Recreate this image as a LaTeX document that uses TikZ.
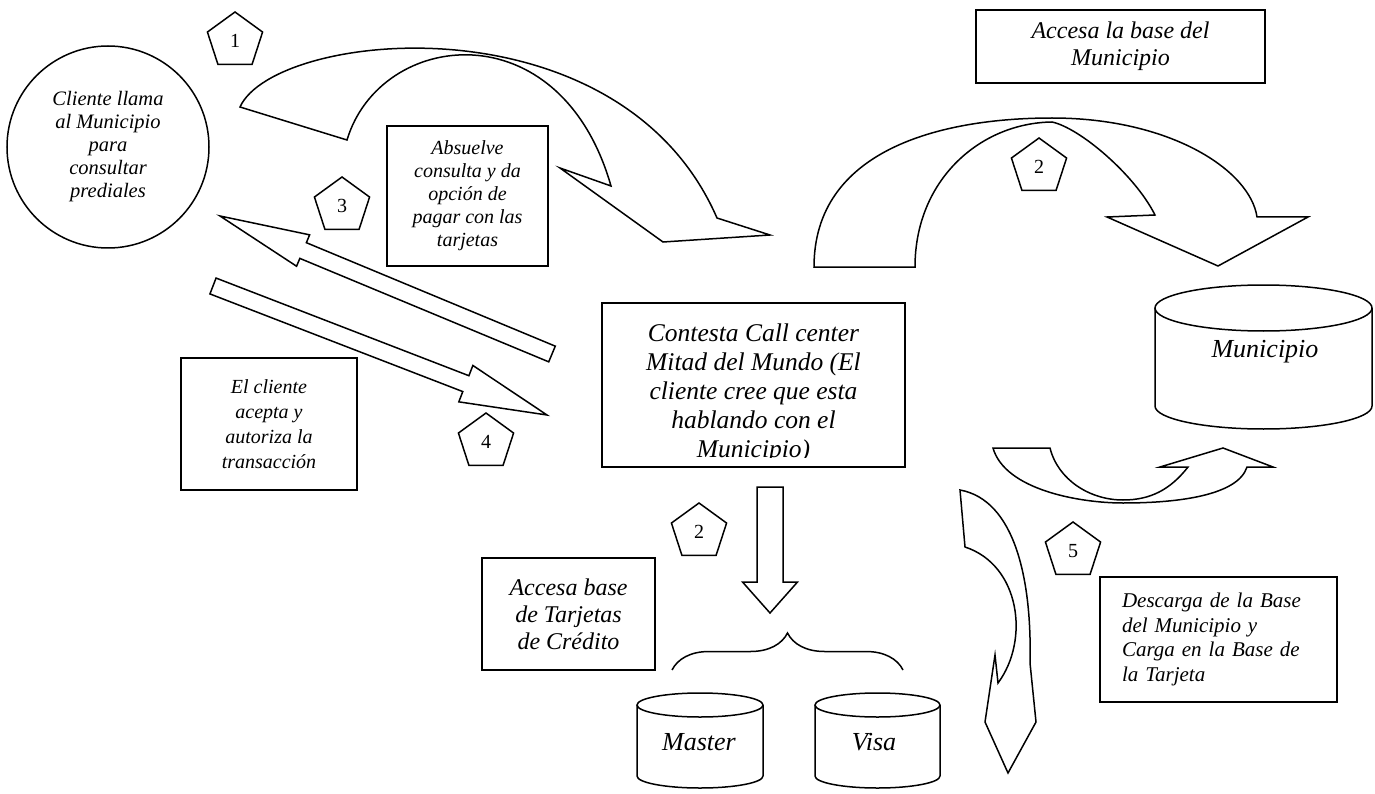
\documentclass[tikz,border=0pt]{standalone}
\usepackage{fontspec}
\setmainfont{Liberation Serif}
\usetikzlibrary{shapes.geometric,decorations.pathreplacing,calc}

\begin{document}
\begin{tikzpicture}[x=1pt,y=-1pt,line width=1.5pt,
 box/.style={draw,inner sep=0pt,align=center,font=\itshape\fontsize{20}{23}\selectfont},
 penta/.style={draw,regular polygon,regular polygon sides=5,minimum size=58pt,inner sep=0pt,font=\fontsize{20}{24}\selectfont},
 dbtxt/.style={font=\itshape\fontsize{26}{30}\selectfont}]
\useasboundingbox (0,0) rectangle (1375,794);

% nodes
\node[draw,circle,minimum size=202pt,inner sep=0pt,align=center,font=\itshape\fontsize{20.5}{23}\selectfont] (cliente) at (108,147) {Cliente llama\\al Municipio\\para\\consultar\\prediales};
\node[box,minimum width=161pt,minimum height=140pt] (absuelve) at (467.5,196) {Absuelve\\consulta y da\\opción de\\pagar con las\\tarjetas};
\node[box,minimum width=176pt,minimum height=132pt,font=\itshape\fontsize{20}{25}\selectfont] (acepta) at (269,424) {El cliente\\acepta y\\autoriza la\\transacción};
\node[box,minimum width=289pt,minimum height=73pt,font=\itshape\fontsize{24}{27}\selectfont] (basemuni) at (1120.5,46.5) {Accesa la base del\\Municipio};
\node[box,minimum width=173pt,minimum height=112pt,font=\itshape\fontsize{24}{27}\selectfont] (basetarj) at (568.5,614) {Accesa base\\de Tarjetas\\de Crédito};
\node[box,minimum width=237pt,minimum height=125pt,align=left,text width=193pt,font=\itshape\fontsize{21}{24.5}\selectfont] (descarga) at (1218.5,639.5) {Descarga de la Base\\del Municipio y\\Carga en la Base de\\la Tarjeta};
\node[draw,minimum width=303pt,minimum height=164pt,inner sep=0pt] (call) at (753.5,385) {};
\begin{scope}
\clip (602,303) rectangle (905,457.5);
\node[anchor=north,inner sep=0pt,align=center,font=\itshape\fontsize{25.5}{29}\selectfont] (calltxt) at (753.5,323) {Contesta Call center\\Mitad del Mundo (El\\cliente cree que esta\\hablando con el\\Municipio)};
\end{scope}

\node[penta] (p1) at (235,41) {1};
\node[penta] (p3) at (342,206) {3};
\node[penta] (p2a) at (1039,167) {2};
\node[penta] (p4) at (486,442) {4};
\node[penta] (p2b) at (699,532) {2};
\node[penta] (p5) at (1073,551) {5};

% bases de datos
\draw (1155,308) -- (1155,406) arc[start angle=180,end angle=0,x radius=108.5,y radius=23] -- (1372,308);
\draw (1263.5,308) ellipse[x radius=108.5,y radius=23];
\node[dbtxt] (muni) at (1265,352) {Municipio};
\draw (637,705) -- (637,776) arc[start angle=180,end angle=0,x radius=63,y radius=12] -- (763,705);
\draw (700,705) ellipse[x radius=63,y radius=12];
\node[dbtxt] (master) at (699,742) {Master};
\draw (815,705) -- (815,776) arc[start angle=180,end angle=0,x radius=62.5,y radius=12] -- (940,705);
\draw (877.5,705) ellipse[x radius=62.5,y radius=12];
\node[dbtxt] (visa) at (874,742) {Visa};
\draw[decorate,decoration={brace,amplitude=37pt}] (672,670) -- (903,670);

% flechas curvas
\draw (240,107) .. controls (275,30) and (620,-5) .. (717,218) -- (770,235) -- (663,242) -- (560,168) -- (611,186) .. controls (560,8) and (380,30) .. (347,140) -- cycle;
\draw (814,267) .. controls (814,150) and (940,118) .. (1052,118) .. controls (1170,118) and (1250,170) .. (1257,217) -- (1308,217) -- (1218,266) -- (1107,217) -- (1155,215) .. controls (1135,175) and (1080,128) .. (1052,122) .. controls (980,123) and (915,180) .. (915,267) -- cycle;
\draw (993,448) .. controls (1005,490) and (1080,503) .. (1123,503) .. controls (1180,503) and (1238,495) .. (1247,467) -- (1273,467) -- (1223,448) -- (1160,467) -- (1188,467) .. controls (1170,490) and (1150,500) .. (1123,500) .. controls (1090,500) and (1058,480) .. (1050,448) -- cycle;
\draw (960,490) .. controls (1015,500) and (1032,580) .. (1030,663) -- (1036,722) -- (1008,773) -- (985,722) -- (995,655) -- (998,683) .. controls (1030,640) and (1020,565) .. (965,547) -- cycle;

% flechas rectas
\coordinate (a3e) at (552,354);
\coordinate (a3t) at (220,216);
\coordinate (a3b) at ($(a3t)!90pt!(a3e)$);
\draw ($(a3e)!8.5pt!90:(a3t)$) -- ($(a3b)!8.5pt!90:(a3t)$) -- ($(a3b)!17pt!90:(a3t)$) -- (a3t) -- ($(a3b)!17pt!-90:(a3t)$) -- ($(a3b)!8.5pt!-90:(a3t)$) -- ($(a3e)!8.5pt!-90:(a3t)$) -- cycle;
\coordinate (a4e) at (213,286);
\coordinate (a4t) at (547,415);
\coordinate (a4b) at ($(a4t)!87pt!(a4e)$);
\draw ($(a4e)!8.5pt!90:(a4t)$) -- ($(a4b)!8.5pt!90:(a4t)$) -- ($(a4b)!19.5pt!90:(a4t)$) -- (a4t) -- ($(a4b)!19.5pt!-90:(a4t)$) -- ($(a4b)!8.5pt!-90:(a4t)$) -- ($(a4e)!8.5pt!-90:(a4t)$) -- cycle;
\coordinate (a2e) at (770,487);
\coordinate (a2t) at (770,613);
\coordinate (a2b) at ($(a2t)!31pt!(a2e)$);
\draw ($(a2e)!13pt!90:(a2t)$) -- ($(a2b)!13pt!90:(a2t)$) -- ($(a2b)!27.5pt!90:(a2t)$) -- (a2t) -- ($(a2b)!27.5pt!-90:(a2t)$) -- ($(a2b)!13pt!-90:(a2t)$) -- ($(a2e)!13pt!-90:(a2t)$) -- cycle;
\end{tikzpicture}
\end{document}
